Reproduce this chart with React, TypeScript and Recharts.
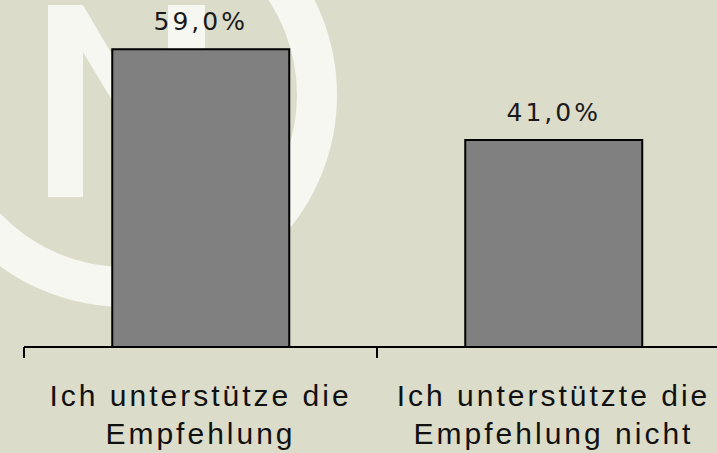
import { BarChart, Bar, XAxis, YAxis, LabelList } from 'recharts';

const categories = ['Ich unterstütze die Empfehlung', 'Ich unterstützte die Empfehlung nicht'];
const shares = [59, 41];

const data = categories.map((name, i) => ({ name, value: shares[i] }));

const BG = '#dcdcca';
const MARK = '#f7f7f2';

function fmtPct(v: number) {
  return v.toFixed(1).replace('.', ',') + '%';
}

// category label in two lines + tick at the left edge of each band (Excel style)
function CategoryTick(props: any) {
  const { x, y, payload, index, visibleTicksCount } = props;
  const half = payload.offset ?? 176;
  const lines = String(payload.value).replace(' die ', ' die\n').split('\n');
  const isLast = index === visibleTicksCount - 1;
  return (
    <g>
      <line x1={x - half} y1={y} x2={x - half} y2={y + 11} stroke="#000" strokeWidth={2} />
      {isLast && <line x1={x + half} y1={y} x2={x + half} y2={y + 11} stroke="#000" strokeWidth={2} />}
      <text
        textAnchor="middle"
        fontFamily="'Liberation Sans', Arial, sans-serif"
        fontSize={30}
        letterSpacing={3}
        fill="#111"
      >
        {lines.map((l, i) => (
          <tspan key={i} x={x} y={y + 59 + i * 38}>
            {l}
          </tspan>
        ))}
      </text>
    </g>
  );
}

function Watermark() {
  return (
    <svg width={717} height={453} style={{ position: 'absolute', left: 0, top: 0 }}>
      <circle cx={125} cy={95} r={192} fill="none" stroke={MARK} strokeWidth={40} />
      <polygon
        points="48,5 83,5 168,150 168,5 205,5 205,197 170,197 83,52 83,197 48,197"
        fill={MARK}
      />
    </svg>
  );
}

export default function App() {
  return (
    <div
      style={{
        position: 'fixed',
        left: 0,
        top: 0,
        width: 717,
        height: 453,
        overflow: 'hidden',
        background: BG,
      }}
    >
      <Watermark />
      <div style={{ position: 'absolute', left: 0, top: 0 }}>
        <BarChart
          width={730}
          height={453}
          data={data}
          margin={{ top: 19, right: 0, bottom: 0, left: 24 }}
          barCategoryGap="25%"
        >
          <YAxis hide domain={[0, 65]} />
          <XAxis
            dataKey="name"
            height={106}
            axisLine={{ stroke: '#000', strokeWidth: 2 }}
            tickLine={false}
            tickSize={0}
            tickMargin={0}
            interval={0}
            tick={<CategoryTick />}
          />
          <Bar dataKey="value" fill="#808080" stroke="#000" strokeWidth={2} isAnimationActive={false}>
            <LabelList
              dataKey="value"
              position="top"
              offset={19}
              formatter={(v: any) => fmtPct(Number(v))}
              fontFamily="'DejaVu Sans', sans-serif"
              fontSize={25}
              letterSpacing={3}
              fill="#1a1a1a"
            />
          </Bar>
        </BarChart>
      </div>
    </div>
  );
}
